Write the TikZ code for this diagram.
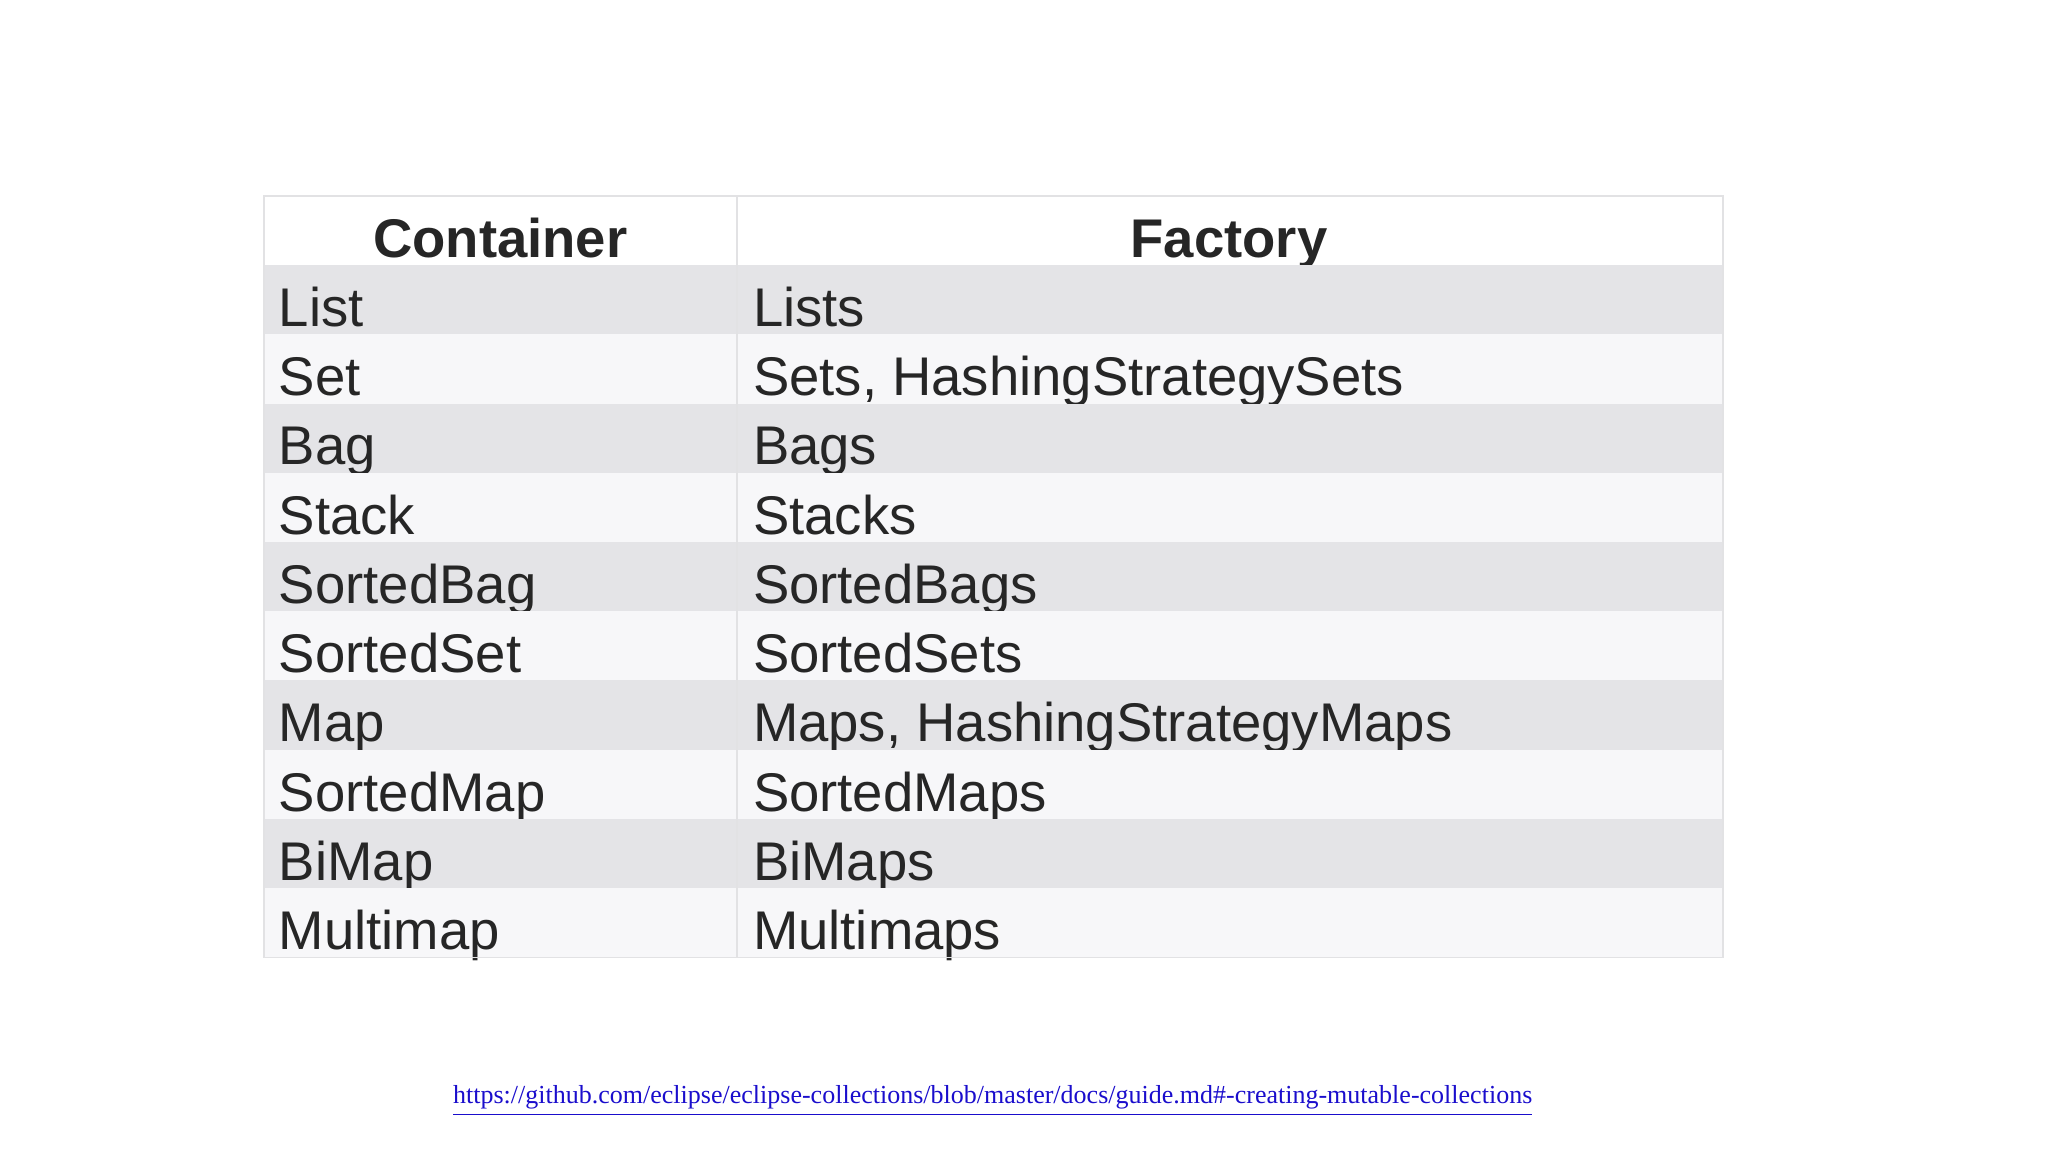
\documentclass[tikz,border=0pt]{standalone}
\usepackage{fontspec}
\setmainfont{Liberation Sans}
\newfontfamily\urlfont{Liberation Serif}
\usepackage{xcolor}
\definecolor{rowdark}{HTML}{E4E4E7}
\definecolor{rowlight}{HTML}{F7F7F9}
\definecolor{gridline}{HTML}{E2E2E4}
\definecolor{cellink}{HTML}{262626}
\definecolor{linkblue}{HTML}{1A0DCC}

\begin{document}
\begin{tikzpicture}[x=0.013061cm,y=-0.013061cm,
    cell/.style={anchor=base west,inner sep=0pt,text=cellink,font=\fontsize{15.5}{18}\selectfont},
    head/.style={anchor=base,inner sep=0pt,text=cellink,font=\fontsize{15.5}{18}\selectfont\bfseries}]
    \useasboundingbox (0,0) rectangle (1568,882);

    % Header row
    \fill[white] (202,150) rectangle (1319,203);
    \node[head] (hcont) at (383,197) {Container};
    \node[head] (hfact) at (941,197) {Factory};

    % Body rows
    \foreach \i/\cont/\fact in {0/List/Lists,1/Set/{Sets, HashingStrategySets},2/Bag/Bags,
        3/Stack/Stacks,4/SortedBag/SortedBags,5/SortedSet/SortedSets,
        6/Map/{Maps, HashingStrategyMaps},7/SortedMap/SortedMaps,8/BiMap/BiMaps,9/Multimap/Multimaps}
    {
        \pgfmathsetmacro{\rowtop}{203+53*\i}
        \pgfmathtruncatemacro{\odd}{mod(\i,2)}
        \ifnum\odd=0 \def\rowcol{rowdark}\else \def\rowcol{rowlight}\fi
        \fill[\rowcol] (202,\rowtop) rectangle (1319,\rowtop+53);
        \node[cell] (cont\i) at (213,\rowtop+47) {\cont};
        \node[cell] (fact\i) at (576,\rowtop+47) {\fact};
    }

    % Grid
    \draw[gridline,line width=0.5pt] (202,150) rectangle (1319,733);
    \draw[gridline,line width=0.5pt] (564,150) -- (564,733);

    % Source link
    \node[anchor=base,inner sep=0pt,text=linkblue,font=\urlfont\fontsize{7.4}{9}\selectfont] (src) at (760,845)
        {\underline{https://github.com/eclipse/eclipse-collections/blob/master/docs/guide.md\#-creating-mutable-collections}};
\end{tikzpicture}
\end{document}
